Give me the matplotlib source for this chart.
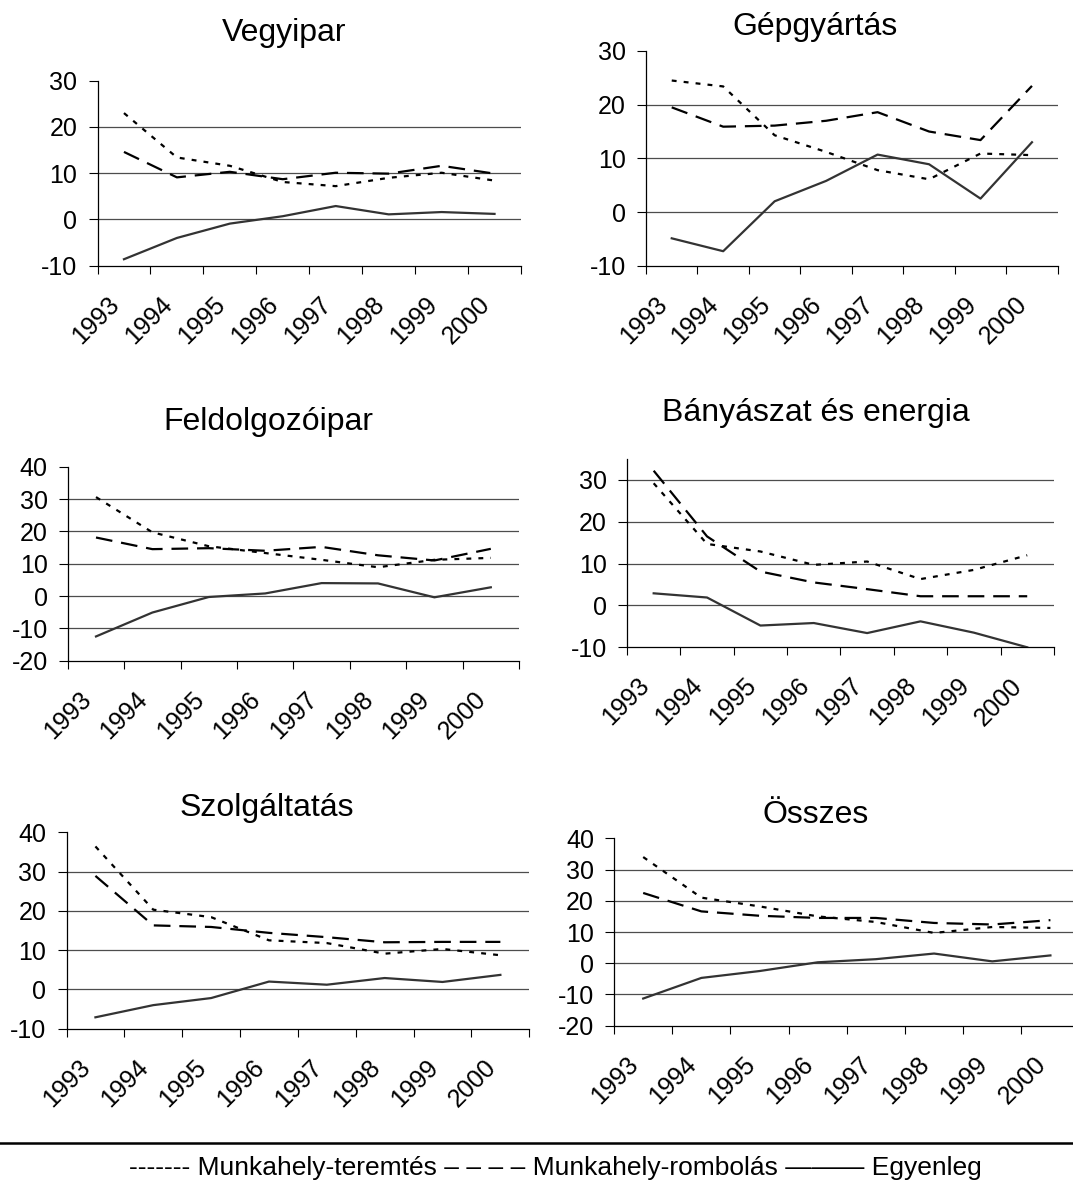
import numpy as np
import matplotlib
matplotlib.use("Agg")
import matplotlib.pyplot as plt
from matplotlib.lines import Line2D

plt.rcParams['font.family'] = ['Liberation Sans', 'DejaVu Sans']

# adatok
years = ['1993', '1994', '1995', '1996', '1997', '1998', '1999', '2000']

vegy_teremtes = [23.0, 13.4, 11.6, 8.1, 7.2, 9.0, 10.1, 8.4]
vegy_rombolas = [14.6, 9.1, 10.3, 8.7, 10.1, 9.9, 11.6, 9.9]
vegy_egyenleg = [-8.6, -4.0, -0.9, 0.7, 2.9, 1.1, 1.6, 1.2]

gep_teremtes = [24.5, 23.4, 14.3, 11.2, 7.8, 6.1, 10.9, 10.6]
gep_rombolas = [19.5, 15.9, 16.1, 17.0, 18.6, 15.0, 13.4, 23.5]
gep_egyenleg = [-4.9, -7.3, 2.0, 5.8, 10.7, 8.9, 2.5, 13.0]

feld_teremtes = [30.6, 19.7, 15.4, 13.3, 11.2, 8.9, 11.2, 11.8]
feld_rombolas = [18.1, 14.5, 14.8, 14.0, 15.2, 12.6, 11.0, 14.6]
feld_egyenleg = [-12.5, -5.1, -0.3, 0.8, 4.0, 3.9, -0.4, 2.7]

bany_teremtes = [29.2, 14.7, 12.9, 9.7, 10.5, 6.3, 8.5, 12.0]
bany_rombolas = [32.2, 16.5, 8.1, 5.5, 3.9, 2.2, 2.2, 2.2]
bany_egyenleg = [2.9, 1.9, -4.8, -4.2, -6.6, -3.8, -6.5, -10.0]

szolg_teremtes = [36.4, 20.3, 18.4, 12.5, 11.8, 9.1, 10.3, 8.7]
szolg_rombolas = [28.9, 16.3, 15.9, 14.4, 13.3, 12.0, 12.1, 12.1]
szolg_egyenleg = [-7.1, -4.0, -2.2, 2.0, 1.2, 2.9, 1.9, 3.7]

ossz_teremtes = [34.0, 21.0, 18.2, 15.0, 13.2, 9.7, 11.6, 11.3]
ossz_rombolas = [22.5, 16.6, 15.2, 14.5, 14.5, 12.9, 12.4, 13.8]
ossz_egyenleg = [-11.3, -4.7, -2.5, 0.3, 1.3, 3.1, 0.6, 2.5]

W, H = 1073, 1199
fig = plt.figure(figsize=(W / 100, H / 100), dpi=100)

# panel: cím, adatok, y-tartomány, hely pixelben (bal, jobb, felső, alsó), cím helye
panels = [
    ("Vegyipar", vegy_teremtes, vegy_rombolas, vegy_egyenleg, (-10, 30), (97.5, 521, 80.7, 265.7), (284, 33)),
    ("Gépgyártás", gep_teremtes, gep_rombolas, gep_egyenleg, (-10, 30), (646, 1057.7, 51, 265.7), (815, 27)),
    ("Feldolgozóipar", feld_teremtes, feld_rombolas, feld_egyenleg, (-20, 40), (67.8, 519, 466.7, 660.7), (268, 422)),
    ("Bányászat és energia", bany_teremtes, bany_rombolas, bany_egyenleg, (-10, 35), (627, 1053.9, 459, 647.3), (816, 413)),
    ("Szolgáltatás", szolg_teremtes, szolg_rombolas, szolg_egyenleg, (-10, 40), (66.5, 529.3, 832.3, 1028.7), (267, 808)),
    ("Összes", ossz_teremtes, ossz_rombolas, ossz_egyenleg, (-20, 40), (614.1, 1079.5, 838.3, 1025.7), (816, 815)),
]

x = np.arange(len(years))
for title, ter, rom, egy, ylim, (l, r, t, b), (tx, ty) in panels:
    ax = fig.add_axes([l / W, 1 - b / H, (r - l) / W, (b - t) / H])
    ax.set_xlim(-0.5, len(years) - 0.5)
    ax.set_ylim(*ylim)
    ticks = np.arange(ylim[0], ylim[1] + 1, 10)
    ticks = ticks[ticks <= ylim[1]]
    for yv in ticks:
        if ylim[0] < yv < ylim[1]:
            ax.axhline(yv, color='0.3', lw=0.9, zorder=1)
    ax.plot(x, ter, color='black', lw=1.6, linestyle=(0, (2.2, 3.2)), zorder=3)
    ax.plot(x, rom, color='black', lw=1.6, linestyle=(0, (7.5, 4)), zorder=3)
    ax.plot(x, egy, color='#333333', lw=1.6, zorder=3)
    ax.set_yticks(ticks)
    ax.set_yticklabels([str(int(v)) for v in ticks], fontsize=18)
    ax.tick_params(axis='y', length=6.5, width=0.8, pad=8)
    ax.set_xticks(np.arange(-0.5, len(years), 1.0))
    ax.set_xticklabels([])
    ax.tick_params(axis='x', which='major', length=6, width=0.8)
    ax.set_xticks(x, minor=True)
    ax.set_xticklabels(years, minor=True, fontsize=18, rotation=45,
                       ha='right', va='top')
    ax.tick_params(axis='x', which='minor', length=0, pad=19)
    for s in ['top', 'right']:
        ax.spines[s].set_visible(False)
    for s in ['left', 'bottom']:
        ax.spines[s].set_linewidth(0.9)
    ax.patch.set_alpha(0)
    fig.text(tx / W, 1 - ty / H, title, fontsize=23, ha='center', va='center')

# jelmagyarázat
fig.add_artist(Line2D([0, 1], [1 - 1143 / H, 1 - 1143 / H], color='black', lw=1.8))
fig.text(555 / W, 1 - 1168 / H,
         "------- Munkahely-teremtés – – – – Munkahely-rombolás ——— Egyenleg",
         fontsize=19, ha='center', va='center')

plt.savefig('out.png', dpi=100)
